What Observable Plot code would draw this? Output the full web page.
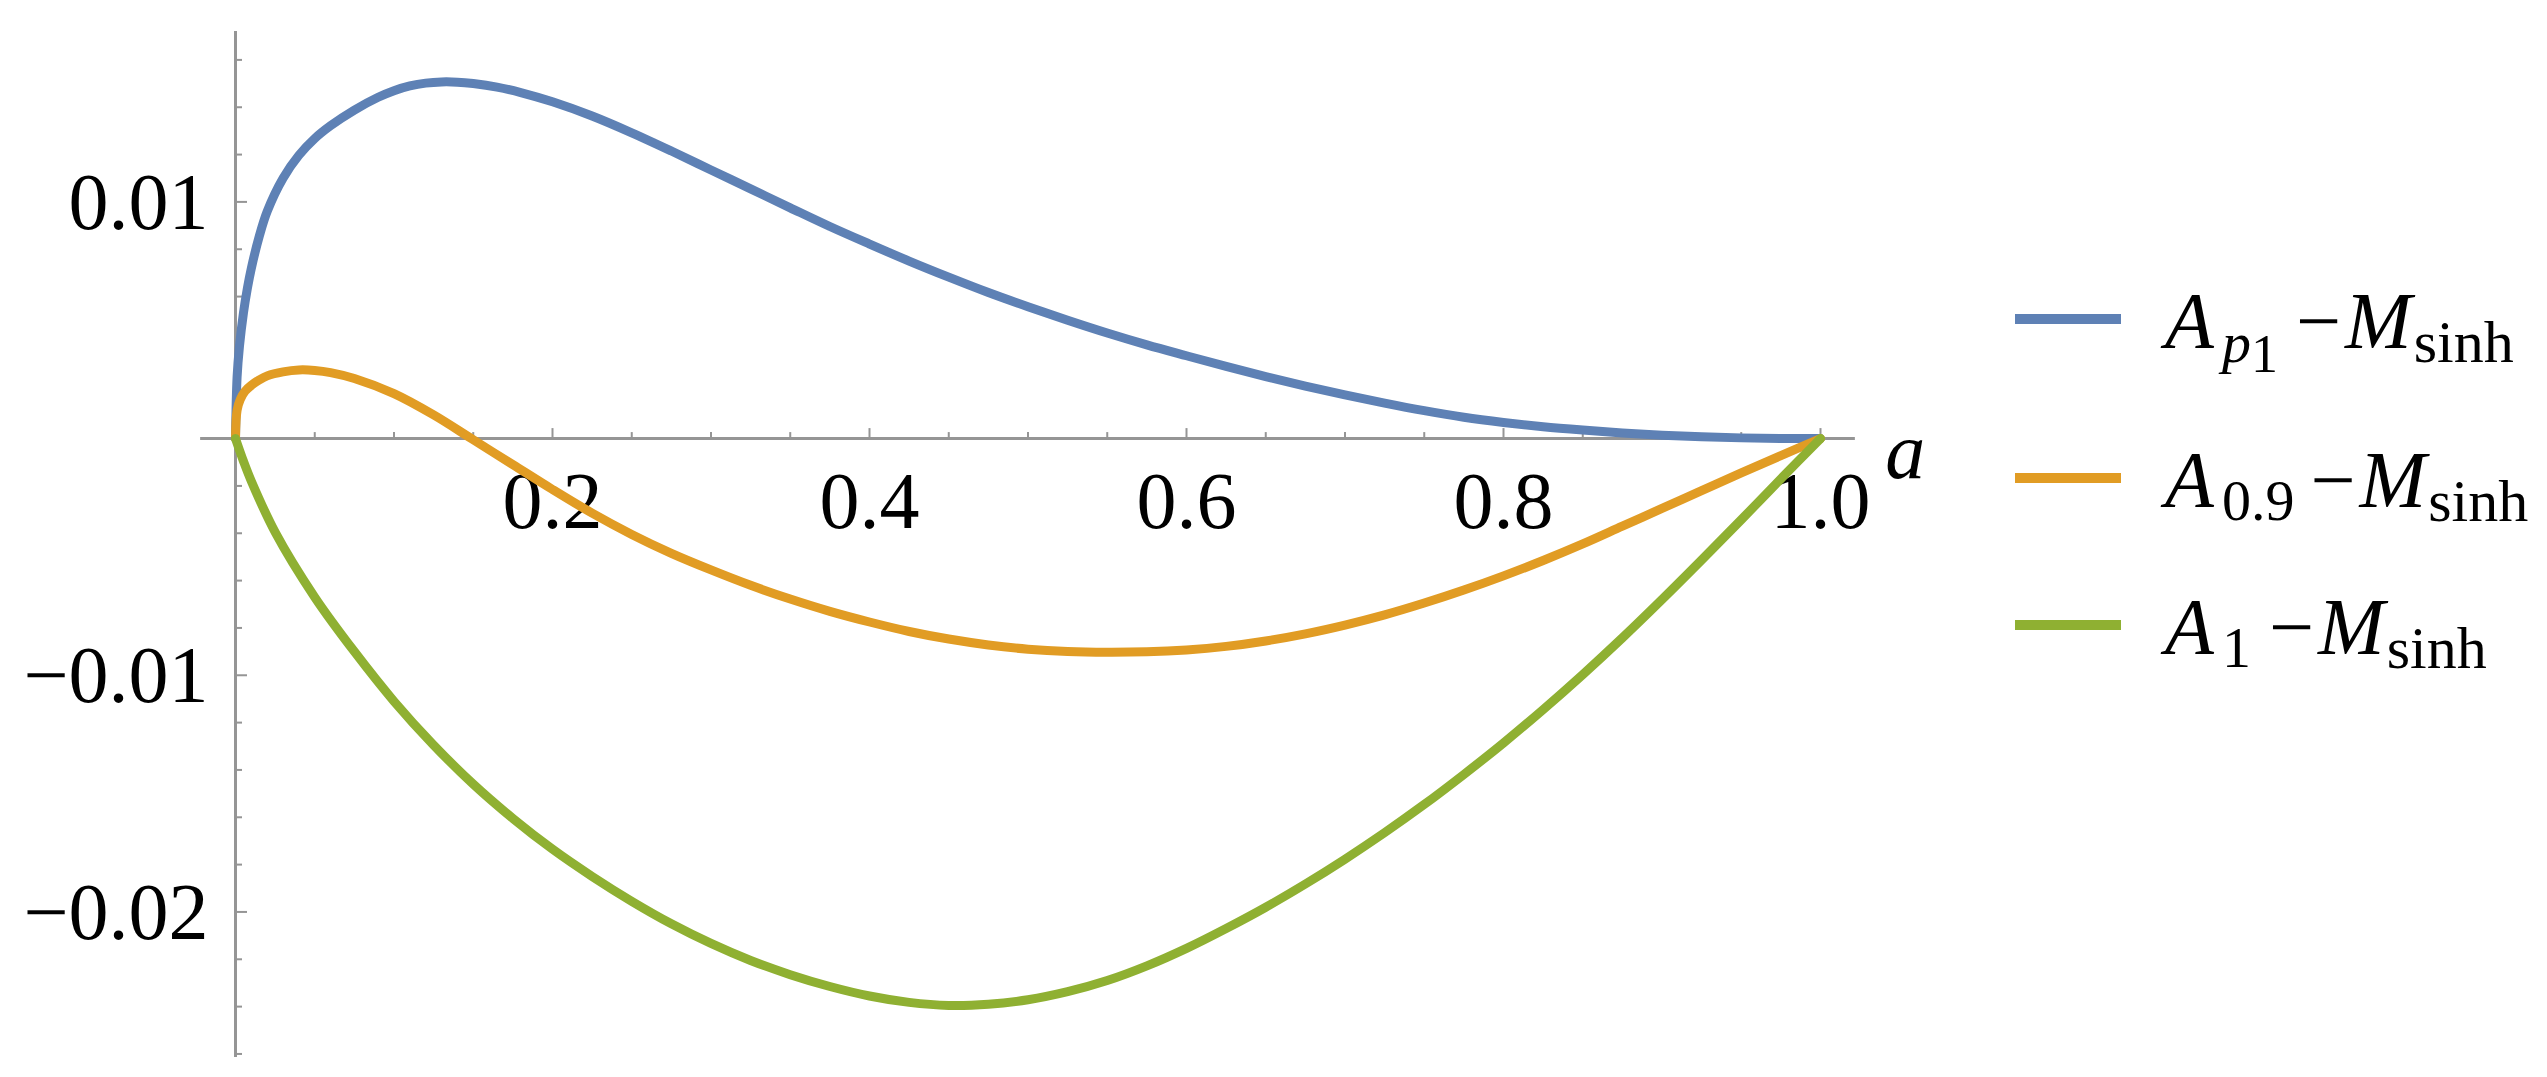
<!DOCTYPE html>
<html>
<head>
<meta charset="utf-8">
<script src="https://cdn.jsdelivr.net/npm/d3@7"></script>
<script src="https://cdn.jsdelivr.net/npm/@observablehq/plot@0.6"></script>
<style>
  html, body { margin: 0; padding: 0; background: #ffffff; }
  #wrap { display: flex; flex-direction: row; width: 2547px; height: 1077px; overflow: hidden; background: #fff; }
</style>
</head>
<body>
<div id="wrap"></div>
<script>
// ---------------- data ----------------
const blueA = [0, 0.001, 0.0025, 0.005, 0.0075, 0.01, 0.015, 0.02, 0.03, 0.04, 0.05, 0.06, 0.075, 0.09, 0.1, 0.11, 0.12, 0.13, 0.14, 0.15, 0.165, 0.18, 0.2, 0.225, 0.25, 0.275, 0.3, 0.325, 0.35, 0.375, 0.4, 0.425, 0.45, 0.475, 0.5, 0.525, 0.55, 0.575, 0.6, 0.625, 0.65, 0.675, 0.7, 0.725, 0.75, 0.775, 0.8, 0.825, 0.85, 0.875, 0.9, 0.925, 0.95, 0.975, 1.0];
const blueV = [0, 0.0026, 0.0039, 0.0053, 0.00635, 0.0072, 0.00855, 0.0096, 0.0110, 0.01197, 0.01268, 0.01322, 0.01388, 0.01442, 0.0147, 0.0149, 0.01502, 0.01507, 0.01506, 0.0150, 0.01485, 0.01462, 0.01423, 0.01363, 0.01292, 0.01215, 0.01135, 0.01055, 0.00975, 0.00896, 0.00822, 0.0075, 0.00682, 0.00617, 0.00557, 0.0050, 0.00446, 0.00396, 0.0035, 0.00305, 0.00262, 0.00222, 0.00185, 0.0015, 0.00118, 0.0009, 0.00068, 0.0005, 0.00036, 0.00024, 0.000145, 0.000075, 0.00003, 0.000006, 0];

const orangeA = [0, 0.001, 0.003, 0.006, 0.01, 0.015, 0.02, 0.03, 0.04, 0.05, 0.06, 0.075, 0.1, 0.125, 0.15, 0.175, 0.2, 0.225, 0.25, 0.275, 0.3, 0.325, 0.35, 0.375, 0.4, 0.425, 0.45, 0.475, 0.5, 0.525, 0.55, 0.575, 0.6, 0.625, 0.65, 0.675, 0.7, 0.725, 0.75, 0.775, 0.8, 0.825, 0.85, 0.875, 0.9, 0.925, 0.95, 0.975, 1.0];
const orangeV = [0, 0.0012, 0.00165, 0.0020, 0.00225, 0.00248, 0.00265, 0.00282, 0.0029, 0.00288, 0.00279, 0.00254, 0.0019, 0.001, -0.00005, -0.0011, -0.00215, -0.00315, -0.00405, -0.00485, -0.00555, -0.0062, -0.00678, -0.0073, -0.00775, -0.00815, -0.00847, -0.00872, -0.0089, -0.009, -0.00903, -0.00901, -0.00893, -0.00878, -0.00855, -0.00825, -0.00788, -0.00745, -0.00695, -0.0064, -0.0058, -0.00515, -0.00445, -0.0037, -0.00295, -0.0022, -0.00145, -0.00072, 0];

const greenA = [0, 0.005, 0.01, 0.025, 0.05, 0.075, 0.1, 0.125, 0.15, 0.175, 0.2, 0.225, 0.25, 0.275, 0.3, 0.325, 0.35, 0.375, 0.4, 0.425, 0.45, 0.475, 0.5, 0.525, 0.55, 0.575, 0.6, 0.625, 0.65, 0.675, 0.7, 0.725, 0.75, 0.775, 0.8, 0.825, 0.85, 0.875, 0.9, 0.925, 0.95, 0.975, 1.0];
const greenV = [0, -0.00095, -0.0018, -0.00395, -0.0067, -0.0090, -0.0111, -0.01295, -0.0146, -0.01605, -0.01735, -0.0185, -0.01955, -0.0205, -0.02133, -0.02205, -0.02265, -0.02315, -0.02355, -0.02382, -0.02395, -0.0239, -0.02371, -0.02337, -0.0229, -0.02228, -0.02154, -0.0207, -0.0198, -0.01882, -0.01777, -0.01665, -0.01546, -0.01419, -0.01286, -0.01145, -0.00997, -0.00842, -0.0068, -0.00513, -0.00343, -0.0017, 0];

const seriesKeys = ["Ap1", "A0.9", "A1"];
const seriesColors = ["#5E81B5", "#E19C24", "#8FB032"];

const xMajorTicks = [0.2, 0.4, 0.6, 0.8, 1.0];
const xTickLabels = ["0.2", "0.4", "0.6", "0.8", "1.0"];
const xMinorTicks = [0.05, 0.1, 0.15, 0.25, 0.3, 0.35, 0.45, 0.5, 0.55, 0.65, 0.7, 0.75, 0.85, 0.9, 0.95];
const yMajorTicks = [0.01, -0.01, -0.02];
const yTickLabels = ["0.01", "\u22120.01", "\u22120.02"];
const yMinorTicks = [0.016, 0.014, 0.012, 0.008, 0.006, 0.004, 0.002, -0.002, -0.004, -0.006, -0.008, -0.012, -0.014, -0.016, -0.018, -0.022, -0.024, -0.026];
const xAxisLabel = "a";

// ---------------- layout ----------------
const W = 1960, H = 1077;
const xDomain = [0, 1], xRange = [235, 1820];
const yDomain = [-0.02615, 0.0172], yRange = [1057, 31];
const xAxisExtent = [-0.022, 1.022];
const FONT = "'Liberation Serif', 'Times New Roman', serif";
const AXIS = "#959595";

const xPx = (xRange[1] - xRange[0]) / (xDomain[1] - xDomain[0]);
const yPx = (yRange[0] - yRange[1]) / (yDomain[1] - yDomain[0]);
const toY = px => px / yPx;   // pixel length -> y data length
const toX = px => px / xPx;   // pixel length -> x data length

const mk = (A, V) => A.map((a, i) => ({a, v: V[i]}));
const blue = mk(blueA, blueV), orange = mk(orangeA, orangeV), green = mk(greenA, greenV);

const lineW = 9;

const chart = Plot.plot({
  width: W, height: H,
  marginTop: 0, marginRight: 0, marginBottom: 0, marginLeft: 0,
  style: {fontFamily: FONT, background: "white", overflow: "visible"},
  x: {domain: xDomain, range: xRange, axis: null},
  y: {domain: yDomain, range: yRange, axis: null},
  marks: [
    // axes lines
    Plot.ruleY([0], {x1: () => xAxisExtent[0], x2: () => xAxisExtent[1], stroke: AXIS, strokeWidth: 3}),
    Plot.ruleX([0], {y1: () => yDomain[0], y2: () => yDomain[1], stroke: AXIS, strokeWidth: 3}),
    // x ticks (inside, upward)
    Plot.ruleX(xMajorTicks, {x: d => d, y1: () => 0, y2: () => toY(10), stroke: AXIS, strokeWidth: 2}),
    Plot.ruleX(xMinorTicks, {x: d => d, y1: () => 0, y2: () => toY(6), stroke: AXIS, strokeWidth: 2}),
    // y ticks (inside, rightward)
    Plot.ruleY(yMajorTicks, {y: d => d, x1: () => 0, x2: () => toX(12), stroke: AXIS, strokeWidth: 2}),
    Plot.ruleY(yMinorTicks, {y: d => d, x1: () => 0, x2: () => toX(7), stroke: AXIS, strokeWidth: 2}),
    // tick labels
    Plot.text(xMajorTicks, {x: d => d, y: () => 0, text: (d, i) => xTickLabels[i], dy: 64, fontSize: 80, textAnchor: "middle", fill: "black"}),
    Plot.text(yMajorTicks, {x: () => 0, y: d => d, text: (d, i) => yTickLabels[i], dx: -27, dy: 1, fontSize: 80, textAnchor: "end", fill: "black"}),
    // axis label
    Plot.text([xAxisLabel], {x: () => xAxisExtent[1], y: () => 0, text: d => d, dx: 30, dy: 14, fontSize: 80, fontStyle: "italic", textAnchor: "start", fill: "black"}),
    // curves
    Plot.line(blue, {x: "a", y: "v", stroke: seriesColors[0], strokeWidth: lineW, curve: "catmull-rom"}),
    Plot.line(orange, {x: "a", y: "v", stroke: seriesColors[1], strokeWidth: lineW, curve: "catmull-rom"}),
    Plot.line(green, {x: "a", y: "v", stroke: seriesColors[2], strokeWidth: lineW, curve: "catmull-rom"})
  ]
});

const wrap = document.getElementById("wrap");
wrap.appendChild(chart);

// ---------------- legend ----------------
const LW = 2547 - W;
const leg = d3.create("svg").attr("width", LW).attr("height", H)
  .style("font-family", FONT).style("background", "white");

const legendLineY = [319, 478, 625];
const legendSubs = [
  [{t: "p", it: true, dy: 14, size: 58, dx: 8}, {t: "1", it: false, dy: 10, size: 54, dx: 0}],
  [{t: "0.9", it: false, dy: 13, size: 58, dx: 8}],
  [{t: "1", it: false, dy: 13, size: 58, dx: 8}]
];
const minusDx = [18, 16, 18];

legendSubs.forEach((subs, i) => {
  const y = legendLineY[i];
  leg.append("line")
    .attr("x1", 55).attr("x2", 161).attr("y1", y).attr("y2", y)
    .attr("stroke", seriesColors[i]).attr("stroke-width", 10);
  const t = leg.append("text").attr("x", 205).attr("y", y + 29)
    .attr("font-size", 80).attr("fill", "black");
  t.append("tspan").attr("font-style", "italic").text("A");
  let shift = 0;
  subs.forEach(s => {
    t.append("tspan").attr("font-size", s.size).attr("dy", s.dy).attr("dx", s.dx)
      .attr("font-style", s.it ? "italic" : "normal").text(s.t);
    shift += s.dy;
  });
  t.append("tspan").attr("font-size", 80).attr("dy", -shift).attr("dx", minusDx[i]).text("\u2212");
  t.append("tspan").attr("font-style", "italic").attr("dx", 4).text("M");
  t.append("tspan").attr("font-size", 60).attr("dy", 14).attr("dx", 2).text("sinh");
});

wrap.appendChild(leg.node());
</script>
</body>
</html>
